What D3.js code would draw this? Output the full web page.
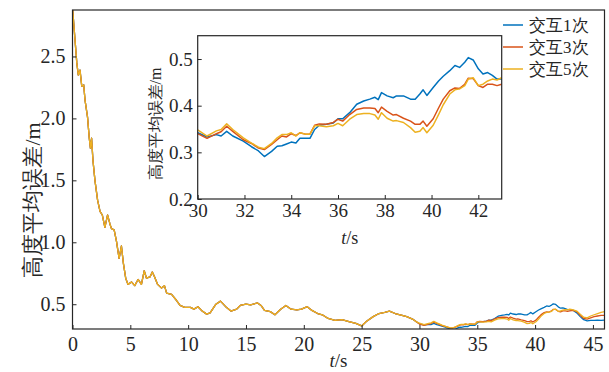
<!DOCTYPE html>
<html>
<head>
<meta charset="utf-8">
<script src="https://cdn.jsdelivr.net/npm/d3@7"></script>
<style>
  html, body { margin: 0; padding: 0; background: #fff; }
  svg { display: block; }
</style>
</head>
<body>
<svg id="chart" width="609" height="372"></svg>
<script>
// ---------------- DATA ----------------
// Shared part (all three curves coincide) 0 – 29.7 s
const timeEarly = [0, 0.17, 0.37, 0.5, 0.65, 0.8, 0.97, 1.08, 1.3, 1.45, 1.55, 1.65, 1.77, 1.94, 2.17, 2.38, 2.58, 2.8, 3.03, 3.23, 3.37, 3.6, 3.8, 4.03, 4.23, 4.4, 4.6, 4.8, 5.1, 5.38, 5.67, 5.96, 6.2, 6.4, 6.7, 6.9, 7.1, 7.36, 7.7, 7.95, 8.14, 8.57, 9.0, 9.3, 9.7, 10.2, 10.5, 10.85, 11.15, 11.6, 11.9, 12.4, 12.8, 13.3, 13.7, 14.2, 14.5, 15.0, 15.4, 16.0, 16.3, 16.6, 17.1, 17.5, 18.0, 18.45, 18.9, 19.4, 19.8, 20.3, 20.7, 21.2, 21.6, 22.1, 22.7, 23.3, 23.9, 24.5, 25.0, 25.4, 26.0, 26.5, 27.0, 27.4, 27.9, 28.5, 28.9, 29.4, 29.7];
const errEarly = [2.90, 2.69, 2.45, 2.35, 2.39, 2.26, 2.27, 2.15, 2.01, 1.84, 1.76, 1.84, 1.66, 1.50, 1.34, 1.25, 1.22, 1.12, 1.22, 1.15, 1.11, 1.10, 1.01, 0.87, 0.97, 0.83, 0.71, 0.66, 0.68, 0.65, 0.70, 0.66, 0.77, 0.71, 0.72, 0.76, 0.72, 0.66, 0.63, 0.65, 0.59, 0.58, 0.53, 0.49, 0.475, 0.475, 0.46, 0.48, 0.45, 0.42, 0.43, 0.50, 0.525, 0.475, 0.445, 0.46, 0.49, 0.50, 0.495, 0.51, 0.49, 0.45, 0.44, 0.415, 0.46, 0.49, 0.46, 0.455, 0.46, 0.48, 0.45, 0.425, 0.415, 0.385, 0.37, 0.375, 0.36, 0.345, 0.325, 0.36, 0.40, 0.425, 0.435, 0.445, 0.425, 0.41, 0.40, 0.38, 0.36];

// Separate part 30 – 46 s
const timeLate = [30, 30.4, 30.8, 31.0, 31.24, 31.5, 31.95, 32.3, 32.6, 32.85, 33.16, 33.4, 33.6, 33.8, 34.0, 34.2, 34.37, 34.6, 34.8, 35.0, 35.2, 35.5, 35.8, 36.0, 36.2, 36.5, 36.8, 37.1, 37.36, 37.58, 37.72, 37.86, 38.1, 38.36, 38.5, 38.8, 39.1, 39.3, 39.5, 39.64, 39.8, 40.07, 40.3, 40.5, 40.78, 41.0, 41.2, 41.42, 41.57, 41.78, 42.0, 42.2, 42.4, 42.6, 42.8, 43.0, 43.3, 43.6, 43.9, 44.2, 44.5, 44.8, 45.1, 45.4, 45.7, 46.0];
const err1Late = [0.342, 0.333, 0.338, 0.335, 0.345, 0.335, 0.324, 0.312, 0.303, 0.291, 0.302, 0.313, 0.314, 0.318, 0.322, 0.320, 0.330, 0.330, 0.330, 0.349, 0.358, 0.360, 0.363, 0.372, 0.372, 0.385, 0.403, 0.410, 0.414, 0.418, 0.413, 0.428, 0.421, 0.417, 0.421, 0.421, 0.414, 0.414, 0.425, 0.434, 0.422, 0.439, 0.453, 0.463, 0.475, 0.486, 0.482, 0.493, 0.503, 0.498, 0.479, 0.468, 0.471, 0.465, 0.457, 0.457, 0.45, 0.43, 0.40, 0.375, 0.365, 0.37, 0.37, 0.372, 0.37, 0.372];
const err3Late = [0.340, 0.330, 0.340, 0.344, 0.356, 0.345, 0.327, 0.319, 0.309, 0.306, 0.317, 0.327, 0.335, 0.333, 0.340, 0.336, 0.342, 0.339, 0.339, 0.358, 0.361, 0.360, 0.364, 0.371, 0.367, 0.381, 0.392, 0.395, 0.395, 0.394, 0.385, 0.397, 0.388, 0.380, 0.381, 0.373, 0.367, 0.360, 0.360, 0.367, 0.356, 0.372, 0.395, 0.414, 0.432, 0.438, 0.437, 0.446, 0.459, 0.458, 0.443, 0.439, 0.446, 0.446, 0.443, 0.446, 0.45, 0.44, 0.41, 0.385, 0.38, 0.39, 0.40, 0.405, 0.41, 0.41];
const err5Late = [0.348, 0.335, 0.346, 0.349, 0.361, 0.349, 0.331, 0.320, 0.311, 0.308, 0.319, 0.331, 0.338, 0.338, 0.342, 0.335, 0.342, 0.339, 0.339, 0.357, 0.357, 0.355, 0.357, 0.362, 0.357, 0.371, 0.381, 0.383, 0.383, 0.380, 0.371, 0.385, 0.373, 0.367, 0.368, 0.364, 0.353, 0.343, 0.345, 0.353, 0.342, 0.358, 0.381, 0.402, 0.425, 0.434, 0.436, 0.443, 0.457, 0.460, 0.443, 0.446, 0.453, 0.457, 0.455, 0.460, 0.455, 0.445, 0.42, 0.395, 0.39, 0.405, 0.415, 0.425, 0.435, 0.44];

const seriesNames = ["交互1次", "交互3次", "交互5次"];
const seriesColors = ["#0072BD", "#D95319", "#EDB120"];

const mainXTicks = [0, 5, 10, 15, 20, 25, 30, 35, 40, 45];
const mainYTicks = [0.5, 1.0, 1.5, 2.0, 2.5];
const insetXTicks = [30, 32, 34, 36, 38, 40, 42];
const insetYTicks = [0.2, 0.3, 0.4, 0.5];

// ---------------- BUILD ----------------
const lateSets = [err1Late, err3Late, err5Late];
const series = lateSets.map((late, i) => ({
  name: seriesNames[i],
  color: seriesColors[i],
  values: timeEarly.map((t, k) => ({ t, v: errEarly[k] }))
    .concat(timeLate.map((t, k) => ({ t, v: late[k] })))
}));

const svg = d3.select("#chart");
const FONT = '"Liberation Serif"';
const axisColor = "#262626";

// Main plot
const M = { left: 72.5, right: 604.5, top: 10, bottom: 329 };
const x = d3.scaleLinear().domain([0, 46]).range([M.left, M.right]);
const y = d3.scaleLinear().domain([0.3, 2.875]).range([M.bottom, M.top]);

svg.append("clipPath").attr("id", "clipMain").append("rect")
  .attr("x", M.left).attr("y", M.top)
  .attr("width", M.right - M.left).attr("height", M.bottom - M.top);

const line = d3.line().x(d => x(d.t)).y(d => y(d.v));
const gMain = svg.append("g").attr("clip-path", "url(#clipMain)");
series.forEach(s => {
  gMain.append("path").datum(s.values)
    .attr("d", line).attr("fill", "none")
    .attr("stroke", s.color).attr("stroke-width", 1.3)
    .attr("stroke-linejoin", "round");
});

// Main axes
const xAxis = d3.axisBottom(x).tickValues(mainXTicks).tickSizeInner(-4).tickSizeOuter(0).tickPadding(8).tickFormat(d3.format("d"));
const yAxis = d3.axisLeft(y).tickValues(mainYTicks).tickSizeInner(-4).tickSizeOuter(0).tickPadding(7).tickFormat(d3.format(".1f"));

const gx = svg.append("g").attr("transform", `translate(0,${M.bottom})`).call(xAxis);
const gy = svg.append("g").attr("transform", `translate(${M.left},0)`).call(yAxis);
[gx, gy].forEach(g => {
  g.attr("font-family", null).attr("font-size", null);
  g.select(".domain").remove();
  g.selectAll(".tick line").attr("stroke", axisColor).attr("stroke-width", 1);
  g.selectAll(".tick text").attr("fill", axisColor).style("font-family", FONT).style("font-size", "20px");
});
svg.append("rect").attr("x", M.left).attr("y", M.top)
  .attr("width", M.right - M.left).attr("height", M.bottom - M.top)
  .attr("fill", "none").attr("stroke", axisColor).attr("stroke-width", 1.2);

// Main axis labels
const xl = svg.append("text").attr("x", (M.left + M.right) / 2).attr("y", 367)
  .attr("text-anchor", "middle").attr("fill", axisColor)
  .style("font-family", FONT).style("font-size", "19px");
xl.append("tspan").style("font-style", "italic").text("t");
xl.append("tspan").text("/s");

svg.append("text").attr("transform", "translate(40,200) rotate(-90)")
  .attr("text-anchor", "middle").attr("fill", axisColor)
  .style("font-family", FONT).style("font-size", "22px")
  .text("高度平均误差/m");

// Inset
const I = { left: 197.7, right: 501.7, top: 35.7, bottom: 199 };
const xi = d3.scaleLinear().domain([30, 43]).range([I.left, I.right]);
const yi = d3.scaleLinear().domain([0.2, 0.55]).range([I.bottom, I.top]);

svg.append("rect").attr("x", I.left).attr("y", I.top)
  .attr("width", I.right - I.left).attr("height", I.bottom - I.top)
  .attr("fill", "#fff");

svg.append("clipPath").attr("id", "clipInset").append("rect")
  .attr("x", I.left).attr("y", I.top)
  .attr("width", I.right - I.left).attr("height", I.bottom - I.top);

const lineI = d3.line().x(d => xi(d.t)).y(d => yi(d.v));
const gIn = svg.append("g").attr("clip-path", "url(#clipInset)");
series.forEach(s => {
  gIn.append("path").datum(s.values.filter(d => d.t >= 29.4 && d.t <= 43.3))
    .attr("d", lineI).attr("fill", "none")
    .attr("stroke", s.color).attr("stroke-width", 1.5)
    .attr("stroke-linejoin", "round");
});

const xiAxis = d3.axisBottom(xi).tickValues(insetXTicks).tickSizeInner(-4).tickSizeOuter(0).tickPadding(5).tickFormat(d3.format("d"));
const yiAxis = d3.axisLeft(yi).tickValues(insetYTicks).tickSizeInner(-4).tickSizeOuter(0).tickPadding(5).tickFormat(d3.format(".1f"));
const gxi = svg.append("g").attr("transform", `translate(0,${I.bottom})`).call(xiAxis);
const gyi = svg.append("g").attr("transform", `translate(${I.left},0)`).call(yiAxis);
[gxi, gyi].forEach(g => {
  g.attr("font-family", null).attr("font-size", null);
  g.select(".domain").remove();
  g.selectAll(".tick line").attr("stroke", axisColor).attr("stroke-width", 1);
  g.selectAll(".tick text").attr("fill", axisColor).style("font-family", FONT).style("font-size", "19px");
});
svg.append("rect").attr("x", I.left).attr("y", I.top)
  .attr("width", I.right - I.left).attr("height", I.bottom - I.top)
  .attr("fill", "none").attr("stroke", axisColor).attr("stroke-width", 1.2);

const xli = svg.append("text").attr("x", (I.left + I.right) / 2).attr("y", 244)
  .attr("text-anchor", "middle").attr("fill", axisColor)
  .style("font-family", FONT).style("font-size", "18px");
xli.append("tspan").style("font-style", "italic").text("t");
xli.append("tspan").text("/s");

svg.append("text").attr("transform", "translate(161,124) rotate(-90)")
  .attr("text-anchor", "middle").attr("fill", axisColor)
  .style("font-family", FONT).style("font-size", "16px")
  .text("高度平均误差/m");

// Legend
const legend = svg.append("g");
series.forEach((s, i) => {
  const ly = 25 + i * 22;
  legend.append("line").attr("x1", 503).attr("x2", 523).attr("y1", ly).attr("y2", ly)
    .attr("stroke", s.color).attr("stroke-width", 1.5);
  legend.append("text").attr("x", 529).attr("y", ly + 6)
    .attr("fill", axisColor).style("font-family", FONT).style("font-size", "17px")
    .text(s.name);
});
</script>
</body>
</html>
